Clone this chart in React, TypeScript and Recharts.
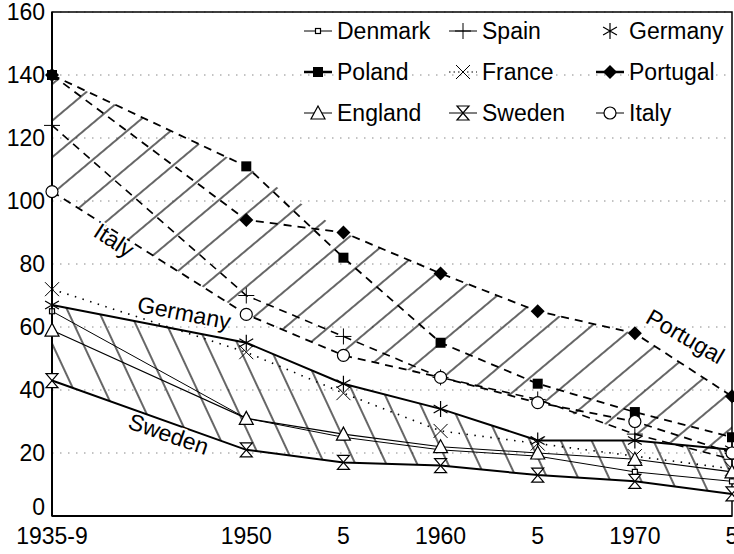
import {
  Area,
  CartesianGrid,
  ComposedChart,
  Legend,
  Line,
  ReferenceArea,
  ReferenceDot,
  XAxis,
  YAxis,
} from "recharts";

// x positions: the 1935-9 column sits two five-year steps before 1950
const YEARS = [1940, 1950, 1955, 1960, 1965, 1970, 1975];
const YEAR_LABELS = ["1935-9", "1950", "5", "1960", "5", "1970", "5"];
const Y_TICKS = [0, 20, 40, 60, 80, 100, 120, 140, 160];

const DENMARK = [65, 31, 25, 21, 19, 14, 11];
const SPAIN = [124, 70, 57, 44, 37, 26, 18];
const GERMANY = [67, 55, 42, 34, 24, 24, 21];
const POLAND = [140, 111, 82, 55, 42, 33, 25];
const FRANCE = [72, 52, 39, 27, 23, 19, 15];
const PORTUGAL = [140, 94, 90, 77, 65, 58, 38];
const ENGLAND = [59, 31, 26, 22, 20, 18, 14];
const SWEDEN = [43, 21, 17, 16, 13, 11, 7];
const ITALY = [103, 64, 51, 44, 36, 30, 20];

const FONT = "'Liberation Sans', Arial, sans-serif";

type MarkerKind =
  | "square"
  | "plus"
  | "star"
  | "block"
  | "cross"
  | "diamond"
  | "triangle"
  | "hourglass"
  | "circle";

interface Country {
  key: string;
  label: string;
  values: number[];
  marker: MarkerKind;
  width: number;
  dash?: string;
  legendLine: "thin" | "thick" | "dot" | "none";
}

// legend order is row by row, three per row
const COUNTRIES: Country[] = [
  { key: "denmark", label: "Denmark", values: DENMARK, marker: "square", width: 1, legendLine: "thin" },
  { key: "spain", label: "Spain", values: SPAIN, marker: "plus", width: 1.6, dash: "8 6", legendLine: "thin" },
  { key: "germany", label: "Germany", values: GERMANY, marker: "star", width: 2, legendLine: "none" },
  { key: "poland", label: "Poland", values: POLAND, marker: "block", width: 1.8, dash: "8 6", legendLine: "thick" },
  { key: "france", label: "France", values: FRANCE, marker: "cross", width: 1.6, dash: "1.5 6.5", legendLine: "dot" },
  { key: "portugal", label: "Portugal", values: PORTUGAL, marker: "diamond", width: 1.8, dash: "8 6", legendLine: "thick" },
  { key: "england", label: "England", values: ENGLAND, marker: "triangle", width: 1.1, legendLine: "thin" },
  { key: "sweden", label: "Sweden", values: SWEDEN, marker: "hourglass", width: 2, legendLine: "thin" },
  { key: "italy", label: "Italy", values: ITALY, marker: "circle", width: 1.8, dash: "8 6", legendLine: "thin" },
];

const UPPER_GROUP = [SPAIN, POLAND, PORTUGAL, ITALY];

const ANNOTATIONS = [
  { text: "Italy", x: 1943.2, y: 87.5, angle: 33 },
  { text: "Germany", x: 1946.8, y: 64.5, angle: 11 },
  { text: "Sweden", x: 1946, y: 26, angle: 19 },
  { text: "Portugal", x: 1972.6, y: 57, angle: 30 },
];

const data = YEARS.map((year, i) => {
  const row: Record<string, number | number[]> = { year };
  COUNTRIES.forEach((c) => {
    row[c.key] = c.values[i];
  });
  const upper = UPPER_GROUP.map((s) => s[i]);
  row.upperBand = [Math.min(...upper), Math.max(...upper)];
  row.lowerBand = [SWEDEN[i], GERMANY[i]];
  return row;
});

function Marker({ kind, cx, cy }: { kind: MarkerKind; cx: number; cy: number }) {
  const k = "#000";
  switch (kind) {
    case "square":
      return <rect x={cx - 2.5} y={cy - 2.5} width={5} height={5} fill="#fff" stroke={k} strokeWidth={1.2} />;
    case "plus":
      return <path d={`M${cx - 8},${cy}H${cx + 8}M${cx},${cy - 8}V${cy + 8}`} stroke={k} strokeWidth={1} />;
    case "star": {
      const r = 8;
      const dx = r * Math.cos(Math.PI / 6);
      const dy = r * Math.sin(Math.PI / 6);
      return (
        <path
          d={`M${cx},${cy - r}V${cy + r}M${cx - dx},${cy - dy}L${cx + dx},${cy + dy}M${cx - dx},${cy + dy}L${cx + dx},${cy - dy}`}
          stroke={k}
          strokeWidth={1.2}
        />
      );
    }
    case "block":
      return <rect x={cx - 5} y={cy - 5} width={10} height={10} fill={k} />;
    case "cross":
      return <path d={`M${cx - 7},${cy - 7}L${cx + 7},${cy + 7}M${cx - 7},${cy + 7}L${cx + 7},${cy - 7}`} stroke={k} strokeWidth={1} />;
    case "diamond":
      return <path d={`M${cx},${cy - 7}L${cx + 7},${cy}L${cx},${cy + 7}L${cx - 7},${cy}Z`} fill={k} />;
    case "triangle":
      return <path d={`M${cx},${cy - 7}L${cx + 7},${cy + 6}L${cx - 7},${cy + 6}Z`} fill="#fff" stroke={k} strokeWidth={1.2} />;
    case "hourglass":
      return (
        <path
          d={`M${cx - 6},${cy - 7}H${cx + 6}L${cx - 6},${cy + 7}H${cx + 6}Z`}
          fill="#fff"
          stroke={k}
          strokeWidth={1.2}
        />
      );
    case "circle":
      return <circle cx={cx} cy={cy} r={6} fill="#fff" stroke={k} strokeWidth={1.2} />;
  }
  return null;
}

function LegendIcon({ c }: { c: Country }) {
  const line =
    c.legendLine === "none" ? null : (
      <line
        x1={2}
        y1={12}
        x2={30}
        y2={12}
        stroke="#000"
        strokeWidth={c.legendLine === "thick" ? 2.5 : 1}
        strokeDasharray={c.legendLine === "dot" ? "1.5 3" : undefined}
      />
    );
  return (
    <svg width={32} height={24} style={{ display: "block" }}>
      {line}
      <Marker kind={c.marker} cx={16} cy={12} />
    </svg>
  );
}

function GridLegend() {
  const cols = [145, 147, 140];
  return (
    <div style={{ display: "grid", gridTemplateColumns: cols.map((w) => `${w}px`).join(" "), rowGap: 17 }}>
      {COUNTRIES.map((c) => (
        <div key={c.key} style={{ display: "flex", alignItems: "center", gap: 3, height: 24 }}>
          <LegendIcon c={c} />
          <span style={{ fontFamily: FONT, fontSize: 23, color: "#000", lineHeight: "24px", background: "#fff" }}>
            {c.label}
          </span>
        </div>
      ))}
    </div>
  );
}

// the bottom "0" sits a little higher than its gridline in the original
function YTick(props: any) {
  const { x, y, payload } = props;
  const shift = payload.value === 0 ? -9 : 0;
  return (
    <text x={x} y={y + shift} textAnchor="end" dominantBaseline="central" fontFamily={FONT} fontSize={23} fill="#000">
      {payload.value}
    </text>
  );
}

export default function App() {
  return (
    <div style={{ position: "absolute", left: 0, top: 0, width: 734, height: 554, background: "#fff" }}>
      <ComposedChart width={734} height={554} data={data} margin={{ top: 12, right: 2, bottom: 0, left: 0 }}>
        <defs>
          <pattern id="hatchUp" width={28} height={28} patternUnits="userSpaceOnUse" patternTransform="rotate(50)">
            <line x1={14} y1={0} x2={14} y2={28} stroke="#000" strokeWidth={1.2} />
          </pattern>
          <pattern id="hatchDown" width={28} height={28} patternUnits="userSpaceOnUse" patternTransform="rotate(-25)">
            <line x1={14} y1={0} x2={14} y2={28} stroke="#000" strokeWidth={1.2} />
          </pattern>
        </defs>
        <CartesianGrid vertical={false} stroke="#888" strokeDasharray="1.5 6.5" />
        <XAxis
          dataKey="year"
          type="number"
          domain={[1940, 1975]}
          ticks={YEARS}
          tickFormatter={(v: number) => YEAR_LABELS[YEARS.indexOf(v)] ?? ""}
          interval={0}
          height={38}
          tickLine={false}
          tickSize={0}
          tickMargin={12}
          axisLine={{ stroke: "#000", strokeWidth: 2 }}
          tick={{ fontSize: 23, fill: "#000", fontFamily: FONT }}
        />
        <YAxis
          type="number"
          domain={[0, 160]}
          ticks={Y_TICKS}
          interval={0}
          width={52}
          tickLine={false}
          tickSize={0}
          tickMargin={7}
          axisLine={{ stroke: "#000", strokeWidth: 2 }}
          tick={<YTick />}
        />
        <ReferenceArea x1={1940} x2={1975} y1={0} y2={160} fill="none" stroke="#000" strokeWidth={1.5} />
        <Area
          dataKey="upperBand"
          type="linear"
          stroke="none"
          fill="url(#hatchUp)"
          fillOpacity={1}
          isAnimationActive={false}
          activeDot={false}
          legendType="none"
        />
        <Area
          dataKey="lowerBand"
          type="linear"
          stroke="none"
          fill="url(#hatchDown)"
          fillOpacity={1}
          isAnimationActive={false}
          activeDot={false}
          legendType="none"
        />
        {COUNTRIES.map((c) => (
          <Line
            key={c.key}
            dataKey={c.key}
            type="linear"
            stroke="#000"
            strokeWidth={c.width}
            strokeDasharray={c.dash}
            isAnimationActive={false}
            activeDot={false}
            dot={(p: any) => <Marker key={`${c.key}-${p.index}`} kind={c.marker} cx={p.cx} cy={p.cy} />}
          />
        ))}
        {ANNOTATIONS.map((a) => (
          <ReferenceDot
            key={a.text}
            x={a.x}
            y={a.y}
            r={0}
            shape={(p: any) => (
              <text
                x={p.cx}
                y={p.cy}
                textAnchor="middle"
                dominantBaseline="central"
                transform={`rotate(${a.angle}, ${p.cx}, ${p.cy})`}
                fontFamily={FONT}
                fontSize={23}
                fill="#000"
                stroke="#fff"
                strokeWidth={4}
                paintOrder="stroke"
              >
                {a.text}
              </text>
            )}
          />
        ))}
        <Legend
          layout="horizontal"
          verticalAlign="middle"
          align="center"
          content={() => <GridLegend />}
          wrapperStyle={{ top: 19, left: 302, width: 432, height: 125 }}
        />
      </ComposedChart>
    </div>
  );
}
